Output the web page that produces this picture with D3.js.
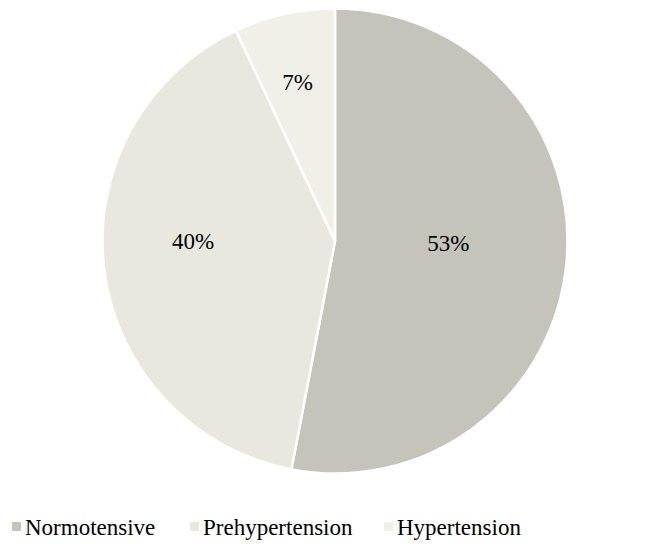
<!DOCTYPE html>
<html>
<head>
<meta charset="utf-8">
<script src="https://cdn.jsdelivr.net/npm/d3@7"></script>
<style>
  html, body { margin: 0; padding: 0; background: #ffffff; }
  svg { display: block; }
  svg text { font-family: "Liberation Serif", "Times New Roman", serif !important; }
</style>
</head>
<body>
<svg id="chart" width="670" height="550"></svg>
<script>
// Blood pressure category shares (%)
const categories = ["Normotensive", "Prehypertension", "Hypertension"];
const shares = [53, 40, 7];
const percentLabels = ["53%", "40%", "7%"];

const colours = ["#c4c4bb", "#e8e8de", "#f0f0e9"];
// label placement: fraction of radius along the slice bisector, plus a small nudge
const labelRadiusFactor = [0.49, 0.615, 0.70];
const labelNudge = [[0, -9], [0, -18], [-2, 0]];

const svg = d3.select("#chart");
const cx = 335, cy = 241, radius = 232.5;

const color = d3.scaleOrdinal().domain(categories).range(colours);

const pie = d3.pie().sort(null).value(d => d.value);
const data = categories.map((c, i) => ({ name: c, value: shares[i], label: percentLabels[i], idx: i }));
const arcs = pie(data);

const arc = d3.arc().innerRadius(0).outerRadius(radius);

const g = svg.append("g").attr("transform", `translate(${cx},${cy})`);

g.selectAll("path.slice")
  .data(arcs)
  .join("path")
  .attr("class", "slice")
  .attr("d", arc)
  .attr("fill", d => color(d.data.name))
  .attr("stroke", "#ffffff")
  .attr("stroke-width", 2.5)
  .attr("stroke-linejoin", "round");

g.selectAll("text.pct")
  .data(arcs)
  .join("text")
  .attr("class", "pct")
  .attr("transform", d => {
    const i = d.data.idx;
    const r = radius * labelRadiusFactor[i];
    const [x, y] = d3.arc().innerRadius(r).outerRadius(r).centroid(d);
    return `translate(${x + labelNudge[i][0]},${y + labelNudge[i][1]})`;
  })
  .attr("text-anchor", "middle")
  .attr("dy", "0.35em")
  .style("font-family", "'Liberation Serif', 'Times New Roman', serif", "important")
  .style("font-size", "23px")
  .attr("fill", "#000000")
  .text(d => d.data.label);

// Legend
const legendX = [12, 190, 384];
const legendY = 527;
const legend = svg.append("g");
const items = legend.selectAll("g.item")
  .data(categories)
  .join("g")
  .attr("class", "item")
  .attr("transform", (d, i) => `translate(${legendX[i]},${legendY})`);

items.append("rect")
  .attr("x", 0)
  .attr("y", -5)
  .attr("width", 9)
  .attr("height", 9)
  .attr("fill", d => color(d));

items.append("text")
  .attr("x", 13)
  .attr("y", 0)
  .attr("dy", "0.35em")
  .style("font-family", "'Liberation Serif', 'Times New Roman', serif", "important")
  .style("font-size", "23px")
  .attr("fill", "#000000")
  .text(d => d);
</script>
</body>
</html>
